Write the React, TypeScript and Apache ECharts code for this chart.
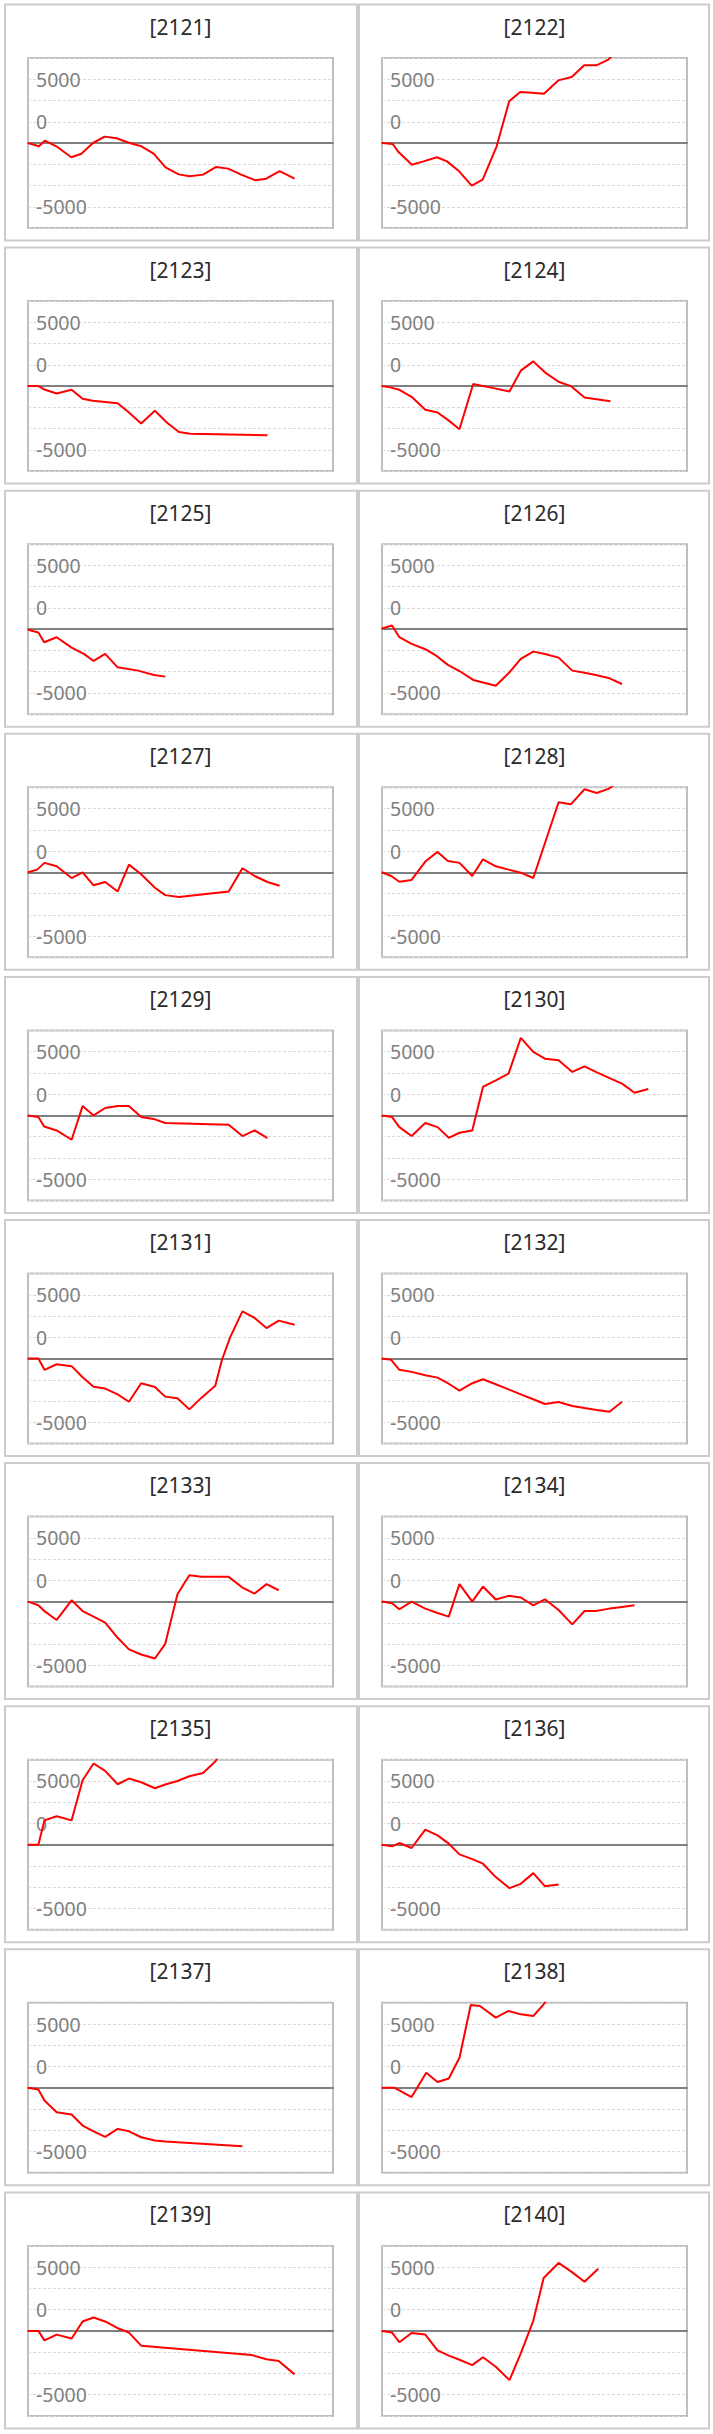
import React, { useEffect, useRef } from "react";
import * as echarts from "echarts";

// ---- data (x: position in % of the period, y: value) ----
const titles = [
  "[2121]", "[2122]", "[2123]", "[2124]", "[2125]", "[2126]", "[2127]", "[2128]", "[2129]", "[2130]",
  "[2131]", "[2132]", "[2133]", "[2134]", "[2135]", "[2136]", "[2137]", "[2138]", "[2139]", "[2140]",
];

const s2121 = [[0,0],[3.6,-260],[5.5,180],[9.3,-260],[14.2,-1120],[17.5,-840],[21.3,0],[25.1,500],[29.0,370],[33.3,0],[37.2,-260],[41.2,-840],[45.1,-1910],[49.4,-2460],[53.0,-2610],[57.4,-2480],[61.7,-1880],[65.6,-2010],[69.9,-2480],[74.6,-2930],[78.1,-2800],[82.5,-2200],[87.4,-2800]];
const s2122 = [[0,0],[3.5,-80],[5.5,-730],[9.8,-1700],[13.6,-1440],[18.0,-1120],[21.3,-1440],[25.3,-2220],[29.4,-3350],[33.0,-2880],[37.6,-260],[41.7,3270],[45.3,4000],[49.1,3950],[53.1,3870],[57.8,4910],[62.2,5180],[66.3,6090],[70.3,6090],[74.2,6540],[78.5,7600]];
const s2123 = [[0,0],[3.4,0],[5.6,-290],[9.4,-580],[14.3,-290],[17.9,-1000],[21.2,-1150],[29.4,-1340],[33.1,-2070],[37.1,-2940],[41.6,-1940],[45.8,-2910],[49.5,-3600],[53.2,-3730],[78.5,-3860]];
const s2124 = [[0,0],[2.7,-100],[5.7,-290],[9.7,-840],[14.2,-1860],[18.2,-2070],[21.6,-2650],[25.4,-3390],[29.9,160],[36.6,-160],[41.8,-420],[45.5,1210],[49.6,1940],[53.4,1080],[57.9,340],[61.9,0],[66.4,-890],[74.9,-1180]];
const s2125 = [[0,-50],[3.4,-260],[5.3,-1020],[9.4,-630],[14.3,-1440],[18.3,-1940],[21.5,-2490],[25.3,-1940],[29.4,-2990],[36.1,-3250],[41.3,-3590],[45.0,-3720]];
const s2126 = [[0,50],[3.3,290],[5.7,-630],[9.7,-1150],[14.2,-1570],[17.9,-2100],[21.6,-2800],[25.4,-3280],[29.9,-3980],[37.3,-4430],[41.5,-3460],[45.5,-2330],[49.6,-1760],[53.4,-1940],[57.9,-2230],[62.4,-3250],[66.4,-3410],[70.1,-3590],[74.6,-3850],[78.7,-4300]];
const s2127 = [[0,0],[3.0,210],[5.4,740],[9.4,470],[14.3,-450],[17.9,0],[21.5,-1020],[25.3,-760],[29.4,-1500],[33.1,600],[37.1,-160],[41.6,-1210],[45.0,-1790],[49.5,-1940],[65.8,-1500],[70.3,320],[74.3,-290],[78.5,-760],[82.5,-1050]];
const s2128 = [[0,0],[3.0,-290],[5.7,-740],[9.7,-600],[14.2,840],[18.2,1600],[21.6,890],[25.4,740],[29.6,-290],[33.1,1020],[37.3,470],[41.5,210],[45.5,-30],[49.6,-450],[57.9,5490],[61.9,5330],[66.4,6510],[70.4,6220],[74.2,6540],[78.5,7200]];
const s2129 = [[0,0],[3.4,-130],[5.3,-870],[9.4,-1180],[14.3,-1910],[17.9,730],[21.5,0],[25.3,580],[29.4,730],[33.1,730],[37.1,-130],[41.6,-310],[45.0,-600],[65.8,-730],[70.3,-1620],[74.3,-1180],[78.5,-1780]];
const s2130 = [[0,0],[3.3,-130],[5.7,-920],[9.7,-1620],[14.2,-600],[18.2,-920],[21.9,-1760],[25.4,-1360],[29.6,-1180],[33.1,2230],[37.3,2750],[41.5,3280],[45.5,6080],[49.6,4980],[53.4,4450],[57.9,4320],[62.4,3410],[66.4,3850],[70.1,3410],[74.6,2930],[78.7,2490],[82.8,1780],[87.3,2070]];
const s2131 = [[0,0],[3.4,0],[5.4,-890],[9.4,-450],[14.3,-600],[17.9,-1470],[21.5,-2210],[25.3,-2360],[29.4,-2810],[33.1,-3390],[37.1,-1940],[41.6,-2230],[45.0,-2990],[49.0,-3120],[52.9,-3990],[56.9,-3070],[61.4,-2130],[63.6,-100],[66.3,1680],[70.3,3700],[74.3,3180],[78.2,2390],[82.2,2970],[87.4,2650]];
const s2132 = [[0,0],[3.0,-100],[5.7,-890],[9.7,-1050],[14.2,-1310],[18.2,-1500],[21.6,-1940],[25.4,-2520],[29.6,-1940],[33.1,-1630],[37.3,-2020],[41.5,-2420],[45.5,-2810],[49.6,-3200],[53.4,-3570],[57.9,-3410],[62.4,-3730],[66.4,-3890],[70.4,-4040],[74.6,-4170],[78.7,-3390]];
const s2133 = [[0,0],[3.4,-290],[5.6,-790],[9.4,-1440],[14.3,100],[17.9,-740],[21.5,-1180],[25.3,-1650],[29.4,-2840],[33.1,-3750],[37.1,-4150],[41.6,-4460],[45.0,-3310],[49.0,580],[52.9,2070],[56.9,1940],[61.4,1940],[65.8,1940],[70.3,1100],[74.3,630],[78.2,1370],[82.2,890]];
const s2134 = [[0,0],[3.3,-130],[5.7,-600],[9.7,0],[14.2,-550],[18.2,-890],[21.9,-1180],[25.4,1370],[29.6,0],[33.1,1180],[37.3,160],[41.5,450],[45.5,320],[49.6,-290],[53.4,180],[57.9,-660],[62.4,-1790],[66.4,-740],[70.1,-740],[74.6,-550],[78.7,-420],[82.8,-290]];
const s2135 = [[0,0],[3.4,0],[5.4,1910],[9.4,2230],[14.3,1910],[17.9,5060],[21.5,6370],[25.3,5790],[29.4,4740],[33.1,5190],[37.1,4900],[41.6,4430],[45.0,4720],[49.0,5000],[52.9,5370],[57.4,5630],[61.4,6520],[64.0,7500]];
const s2136 = [[0,0],[3.3,-130],[5.7,130],[9.7,-260],[14.2,1180],[18.2,730],[21.9,80],[25.4,-760],[29.6,-1130],[33.1,-1490],[37.3,-2540],[41.8,-3410],[45.5,-3070],[49.6,-2230],[53.4,-3250],[57.9,-3120]];
const s2137 = [[0,0],[3.4,-130],[5.4,-1000],[9.4,-1910],[14.3,-2100],[17.9,-2960],[21.5,-3410],[25.3,-3850],[29.4,-3220],[33.1,-3410],[37.1,-3880],[41.6,-4140],[45.0,-4220],[70.3,-4590]];
const s2138 = [[0,0],[4.2,0],[9.7,-730],[14.5,1180],[18.2,450],[21.9,730],[25.4,2360],[29.1,6500],[32.1,6420],[37.3,5500],[41.5,6030],[45.5,5760],[49.6,5630],[53.0,6550],[55.5,7400]];
const s2139 = [[0,0],[3.4,0],[5.4,-740],[9.4,-290],[14.3,-600],[17.9,740],[21.5,1050],[25.3,740],[29.4,210],[33.1,-130],[37.1,-1160],[73.3,-1890],[78.2,-2230],[82.2,-2360],[87.4,-3410]];
const s2140 = [[0,0],[3.3,-130],[5.7,-890],[9.7,-160],[14.2,-290],[18.2,-1520],[21.9,-1940],[25.4,-2260],[29.6,-2680],[33.1,-2070],[37.3,-2810],[41.8,-3860],[45.5,-1760],[49.6,790],[53.0,4150],[57.9,5330],[62.4,4590],[66.4,3860],[70.9,4880]];

const seriesData = [
  s2121, s2122, s2123, s2124, s2125, s2126, s2127, s2128, s2129, s2130,
  s2131, s2132, s2133, s2134, s2135, s2136, s2137, s2138, s2139, s2140,
];

// y axis: grid step and the three labelled ticks as they appear
const Y_STEP = 5000 / 3;
const Y_MIN = -4 * Y_STEP;
const Y_MAX = 4 * Y_STEP;
const yLabelTicks = [5000, 1667, -5000];
const yLabelTexts = ["5000", "0", "-5000"];

// ---- layout ----
const W = 713;
const H = 2434;
const ROW_PITCH = 243.1;
const ROW_TOP0 = 3.5;
const PANEL_X = [5, 359];
const PANEL_W = [352, 350];
const PLOT_X = [28, 382];
const PLOT_W = 305;
const PLOT_H = 170;

export default function App() {
  const ref = useRef<HTMLDivElement>(null);

  useEffect(() => {
    if (!ref.current) return;
    const chart = echarts.init(ref.current, undefined, { renderer: "svg", width: W, height: H });

    const grids: any[] = [];
    const xAxes: any[] = [];
    const yAxes: any[] = [];
    const series: any[] = [];
    const titleOpts: any[] = [];
    const graphics: any[] = [];

    seriesData.forEach((data, i) => {
      const row = Math.floor(i / 2);
      const col = i % 2;
      const rowTop = ROW_TOP0 + row * ROW_PITCH;

      graphics.push({
        type: "rect",
        silent: true,
        shape: { x: PANEL_X[col], y: rowTop + 1, width: PANEL_W[col], height: 236 },
        style: { fill: "none", stroke: "#cccccc", lineWidth: 2 },
      });

      titleOpts.push({
        text: titles[i],
        left: PLOT_X[col] + PLOT_W / 2,
        top: rowTop + 23,
        padding: 0,
        textAlign: "center",
        textVerticalAlign: "middle",
        textStyle: {
          fontFamily: "Noto Sans",
          fontSize: 21,
          fontWeight: "normal",
          color: "#2b2b2b",
        },
      });

      grids.push({
        left: PLOT_X[col],
        top: rowTop + 54.5,
        width: PLOT_W,
        height: PLOT_H,
        show: true,
        borderColor: "#bfbfbf",
        borderWidth: 2,
        backgroundColor: "transparent",
        containLabel: false,
        outerBoundsMode: "none",
      });

      xAxes.push({
        type: "value",
        gridIndex: i,
        min: 0,
        max: 100,
        axisLine: { show: true, onZero: true, lineStyle: { color: "#808080", width: 2 } },
        axisTick: { show: false },
        axisLabel: { show: false },
        splitLine: { show: false },
      });

      yAxes.push({
        type: "value",
        gridIndex: i,
        min: Y_MIN,
        max: Y_MAX,
        interval: Y_STEP,
        axisLine: { show: false },
        axisTick: { show: false },
        splitLine: { show: true, lineStyle: { color: "#d9d9d9", width: 1, type: [3, 2] } },
        axisLabel: {
          inside: true,
          margin: 8,
          color: "#808080",
          fontFamily: "Noto Sans",
          fontSize: 19.5,
          formatter: (v: number) => {
            const r = Math.round(v);
            for (let k = 0; k < yLabelTicks.length; k++) {
              if (Math.abs(r - yLabelTicks[k]) <= 1) return yLabelTexts[k];
            }
            return "";
          },
        },
      });

      series.push({
        type: "line",
        xAxisIndex: i,
        yAxisIndex: i,
        data,
        showSymbol: false,
        symbol: "none",
        clip: true,
        silent: true,
        lineStyle: { color: "#ff0000", width: 2 },
        itemStyle: { color: "#ff0000" },
        z: 3,
      });
    });

    chart.setOption({
      animation: false,
      backgroundColor: "#ffffff",
      title: titleOpts,
      grid: grids,
      xAxis: xAxes,
      yAxis: yAxes,
      series,
      graphic: graphics,
    });

    return () => chart.dispose();
  }, []);

  return (
    <div
      ref={ref}
      style={{ position: "absolute", left: 0, top: 0, width: W, height: H, background: "#fff" }}
    />
  );
}
